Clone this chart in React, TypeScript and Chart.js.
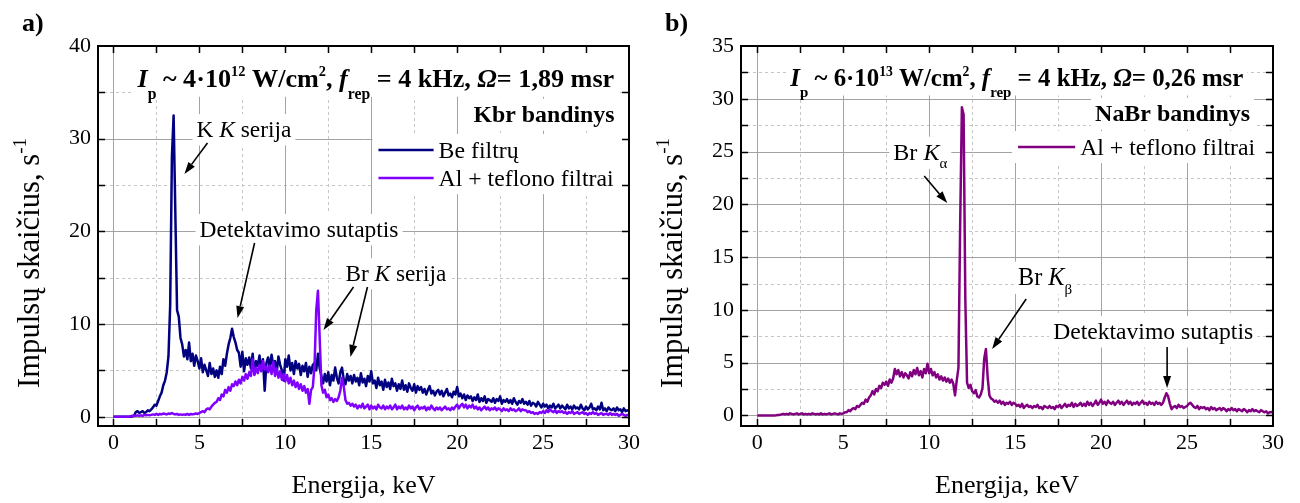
import React, { useEffect, useRef } from 'react';
import { Chart, registerables } from 'chart.js';

Chart.register(...registerables);

// ---------- DATA (spectra sampled every 0.1 keV, starting at 0 keV) ----------
const ENERGY_STEP_KEV = 0.1;

// a) KBr sample, no filters
const kbrNoFilter = [
  /* 0 */ 0, 0, 0, 0, 0, 0, 0, 0, 0, 0,
  /* 1 */ 0, 0.05, 0.1, 0.5, 0.6, 0.4, 0.5, 0.6, 0.4, 0.5,
  /* 2 */ 0.7, 0.6, 0.8, 1.0, 1.3, 1.2, 1.7, 2.2, 2.6, 3.4,
  /* 3 */ 3.9, 4.8, 6.5, 12, 28, 32.5, 22, 11.5, 10.8, 8.5,
  /* 4 */ 7.8, 6.5, 7.2, 6.2, 8.0, 6.0, 6.8, 5.5, 6.6, 6.0,
  /* 5 */ 5.2, 6.3, 4.8, 5.6, 5.0, 4.4, 5.8, 4.6, 5.2, 4.3,
  /* 6 */ 5.0, 4.2, 5.4, 4.6, 6.2, 5.5, 6.8, 7.8, 8.5, 9.5,
  /* 7 */ 8.6, 8.0, 7.2, 6.9, 5.4, 7.0, 4.9, 6.3, 5.6, 6.4,
  /* 8 */ 5.2, 6.8, 4.6, 6.0, 5.5, 6.6, 5.0, 6.2, 2.8, 5.8,
  /* 9 */ 6.4, 5.2, 6.7, 5.5, 6.0, 4.8, 6.5, 5.6, 5.0, 3.9,
  /* 10 */ 6.2, 5.4, 6.6, 5.0, 5.8, 4.6, 6.0, 5.2, 5.7, 4.5,
  /* 11 */ 5.5, 4.9, 5.8, 4.3, 5.4, 4.7, 5.6, 5.8, 5.0, 6.8,
  /* 12 */ 5.2, 4.4, 3.6, 4.6, 3.8, 4.8, 3.4, 4.5, 3.9, 5.3,
  /* 13 */ 4.2, 3.6, 4.8, 5.3, 4.0, 3.5, 4.6, 3.9, 4.4, 3.6,
  /* 14 */ 4.5, 3.8, 4.2, 3.4, 4.7, 3.7, 4.1, 3.3, 4.4, 3.8,
  /* 15 */ 4.9, 3.6, 3.9, 3.1, 4.2, 3.4, 3.8, 2.9, 4.0, 3.2,
  /* 16 */ 3.7, 3.0, 4.1, 3.3, 3.6, 2.8, 3.5, 3.0, 3.9, 2.9,
  /* 17 */ 3.4, 2.7, 3.6, 3.1, 2.8, 3.5, 2.6, 3.3, 2.9, 3.2,
  /* 18 */ 2.6, 3.0, 2.4, 2.9, 3.3, 2.5, 2.8, 2.3, 2.7, 2.9,
  /* 19 */ 2.4, 2.8, 2.2, 2.6, 3.0, 2.3, 2.5, 2.1, 2.7, 2.4,
  /* 20 */ 3.2, 2.2, 2.5, 2.0, 2.4, 1.8, 2.3, 2.0, 2.2, 1.7,
  /* 21 */ 2.1, 1.8, 2.4, 1.6, 2.0, 1.7, 2.2, 1.5, 1.9, 1.8,
  /* 22 */ 1.6, 2.0, 1.5, 1.9, 1.7, 2.2, 1.4, 1.8, 1.6, 1.9,
  /* 23 */ 1.5, 1.8, 1.4, 2.0, 1.6, 1.3, 1.7, 1.5, 1.9, 1.4,
  /* 24 */ 1.6, 1.3, 1.7, 1.2, 1.5, 1.4, 1.1, 1.6, 1.3, 1.0,
  /* 25 */ 1.4, 1.1, 1.3, 0.9, 1.2, 1.0, 1.4, 0.9, 1.1, 1.3,
  /* 26 */ 0.9, 1.2, 1.0, 0.8, 1.3, 0.9, 1.1, 0.8, 1.2, 0.9,
  /* 27 */ 1.0, 0.8, 1.3, 0.9, 0.7, 1.1, 0.8, 1.0, 1.4, 0.8,
  /* 28 */ 0.9, 0.7, 1.1, 0.8, 1.5, 0.7, 0.9, 0.6, 1.0, 0.8,
  /* 29 */ 0.7, 0.9, 0.6, 1.0, 0.7, 0.8, 0.5, 0.9, 0.6, 0.7,
  /* 30 */ 0.6,
];

// a) KBr sample, Al + teflon filters
const kbrAlTeflon = [
  /* 0 */ 0, 0, 0, 0, 0, 0, 0, 0, 0, 0,
  /* 1 */ 0.05, 0.1, 0.1, 0.1, 0.15, 0.1, 0.15, 0.1, 0.2, 0.15,
  /* 2 */ 0.2, 0.15, 0.2, 0.25, 0.2, 0.3, 0.2, 0.3, 0.25, 0.35,
  /* 3 */ 0.3, 0.25, 0.35, 0.3, 0.4, 0.3, 0.25, 0.3, 0.2, 0.25,
  /* 4 */ 0.2, 0.25, 0.2, 0.3, 0.2, 0.3, 0.25, 0.3, 0.35, 0.3,
  /* 5 */ 0.4, 0.5, 0.6, 0.5, 0.8, 0.9, 0.8, 1.1, 1.3, 1.5,
  /* 6 */ 1.6, 2.0, 1.8, 2.4, 2.2, 2.9, 2.6, 3.2, 2.8, 3.5,
  /* 7 */ 3.3, 3.8, 3.4, 4.0, 3.6, 4.3, 3.9, 4.6, 4.1, 4.8,
  /* 8 */ 4.4, 6.2, 4.5, 5.3, 4.7, 5.6, 4.9, 6.0, 5.1, 5.4,
  /* 9 */ 4.8, 5.5, 4.6, 5.9, 4.4, 5.2, 4.2, 4.9, 4.0, 4.6,
  /* 10 */ 3.8, 4.5, 3.6, 4.2, 3.4, 3.9, 3.2, 3.7, 3.0, 3.5,
  /* 11 */ 2.8, 3.3, 2.6, 3.0, 1.4, 2.9, 3.2, 5.5, 11.5, 13.6,
  /* 12 */ 8.5, 3.4, 2.6, 2.9, 2.1, 2.4, 1.8, 2.0, 1.6, 1.9,
  /* 13 */ 1.7, 2.1, 2.8, 4.2, 3.3, 1.8, 1.4, 1.5, 1.2, 1.4,
  /* 14 */ 1.1, 1.3, 0.9, 1.2, 1.0, 1.4, 0.9, 1.1, 1.3, 0.8,
  /* 15 */ 1.2, 0.9, 1.1, 0.8, 1.3, 1.0, 0.9, 1.2, 0.8, 1.1,
  /* 16 */ 0.9, 1.2, 0.8, 1.0, 1.3, 0.8, 1.1, 0.9, 1.2, 0.8,
  /* 17 */ 1.0, 0.8, 1.2, 0.9, 1.1, 0.7, 1.0, 1.2, 0.8, 1.0,
  /* 18 */ 0.9, 1.1, 0.7, 1.0, 0.8, 1.2, 0.9, 0.7, 1.0, 0.8,
  /* 19 */ 1.0, 0.7, 0.9, 1.1, 0.8, 0.9, 0.7, 1.0, 0.8, 1.1,
  /* 20 */ 1.3, 0.9, 1.2, 1.4, 1.0, 1.3, 0.9, 1.2, 1.0, 1.3,
  /* 21 */ 0.9, 1.1, 0.8, 1.0, 0.7, 0.9, 1.1, 0.8, 1.0, 0.7,
  /* 22 */ 0.9, 0.8, 1.0, 0.7, 0.9, 0.8, 0.6, 0.9, 0.7, 0.8,
  /* 23 */ 0.6, 0.9, 0.7, 0.8, 0.6, 0.7, 0.9, 0.6, 0.8, 0.7,
  /* 24 */ 0.7, 0.5, 0.6, 0.4, 0.5, 0.3, 0.4, 0.3, 0.5, 0.4,
  /* 25 */ 0.6, 0.4, 0.7, 0.5, 0.8, 0.6, 0.5, 0.7, 0.4, 0.6,
  /* 26 */ 0.5, 0.6, 0.4, 0.5, 0.3, 0.5, 0.4, 0.6, 0.3, 0.4,
  /* 27 */ 0.5, 0.3, 0.4, 0.5, 0.3, 0.4, 0.2, 0.4, 0.3, 0.5,
  /* 28 */ 0.3, 0.4, 0.2, 0.3, 0.4, 0.2, 0.3, 0.3, 0.2, 0.4,
  /* 29 */ 0.2, 0.3, 0.2, 0.3, 0.1, 0.2, 0.3, 0.2, 0.1, 0.2,
  /* 30 */ 0.2,
];

// b) NaBr sample, Al + teflon filters
const nabrAlTeflon = [
  /* 0 */ 0, 0, 0, 0, 0, 0, 0, 0, 0, 0,
  /* 1 */ 0, 0.02, 0.05, 0.05, 0.1, 0.15, 0.1, 0.15, 0.1, 0.2,
  /* 2 */ 0.15, 0.1, 0.15, 0.2, 0.1, 0.15, 0.2, 0.1, 0.15, 0.1,
  /* 3 */ 0.15, 0.1, 0.2, 0.15, 0.1, 0.15, 0.1, 0.2, 0.1, 0.15,
  /* 4 */ 0.1, 0.15, 0.2, 0.1, 0.15, 0.2, 0.15, 0.1, 0.2, 0.15,
  /* 5 */ 0.2, 0.3, 0.3, 0.5, 0.4, 0.6, 0.7, 0.6, 0.9, 0.8,
  /* 6 */ 1.0, 1.2, 1.1, 1.5, 1.3, 1.7, 1.9, 2.3, 2.0, 2.5,
  /* 7 */ 2.3, 2.8, 2.6, 3.1, 2.9, 3.2, 2.8, 3.4, 3.1, 3.5,
  /* 8 */ 4.4, 3.9, 4.3, 3.7, 4.1, 3.6, 4.0, 3.8, 3.5, 4.1,
  /* 9 */ 3.7, 4.3, 3.9, 4.5, 3.8, 4.2, 3.6, 4.4, 4.0, 4.9,
  /* 10 */ 4.0, 4.4, 3.8, 4.1, 3.6, 3.9, 3.4, 3.7, 3.3, 3.6,
  /* 11 */ 3.2, 3.5, 3.1, 3.4, 3.0, 1.9, 3.3, 4.5, 18.0, 29.2,
  /* 12 */ 28.5, 11.0, 3.1, 2.6, 2.9, 2.3, 2.1, 2.4, 1.8, 1.7,
  /* 13 */ 2.0, 2.6, 5.4, 6.3, 3.6, 1.9, 1.6, 1.5, 1.3, 1.4,
  /* 14 */ 1.2, 1.4, 1.1, 1.3, 1.0, 1.2, 1.1, 1.3, 1.0, 1.2,
  /* 15 */ 1.1, 0.9, 1.0, 0.8, 1.1, 0.7, 0.9, 1.0, 0.8, 0.9,
  /* 16 */ 0.7, 0.9, 0.8, 1.0, 0.7, 0.8, 0.6, 0.9, 0.8, 0.7,
  /* 17 */ 0.9, 0.7, 0.8, 0.6, 0.9, 0.8, 1.0, 0.7, 0.9, 1.1,
  /* 18 */ 0.8, 1.0, 0.9, 1.2, 0.8, 1.1, 0.9, 1.0, 1.2, 0.9,
  /* 19 */ 1.1, 0.9, 1.3, 1.0, 1.2, 0.9, 1.1, 1.4, 1.0, 1.2,
  /* 20 */ 1.5, 1.1, 1.3, 1.0, 1.4, 1.2, 1.1, 1.3, 1.0, 1.2,
  /* 21 */ 1.4, 1.1, 1.3, 1.0, 1.2, 1.4, 1.1, 1.3, 1.0, 1.2,
  /* 22 */ 1.1, 1.3, 1.0, 1.2, 1.4, 1.1, 1.2, 1.0, 1.3, 1.1,
  /* 23 */ 1.2, 1.0, 1.3, 1.1, 1.2, 1.0, 1.2, 1.7, 2.1, 1.8,
  /* 24 */ 1.1, 0.6, 0.8, 0.9, 0.7, 1.0, 0.8, 0.9, 0.7, 0.8,
  /* 25 */ 0.9, 1.1, 1.2, 1.0, 0.8, 0.7, 0.9, 0.6, 0.8, 0.7,
  /* 26 */ 0.8, 0.6, 0.7, 0.5, 0.8, 0.6, 0.7, 0.5, 0.6, 0.7,
  /* 27 */ 0.5, 0.7, 0.6, 0.4, 0.6, 0.5, 0.7, 0.5, 0.6, 0.4,
  /* 28 */ 0.6, 0.5, 0.4, 0.6, 0.5, 0.3, 0.5, 0.4, 0.6, 0.4,
  /* 29 */ 0.5, 0.4, 0.3, 0.5, 0.4, 0.3, 0.4, 0.2, 0.3, 0.3,
  /* 30 */ 0.4,
];

// tick labels
const xTickLabels = [0, 5, 10, 15, 20, 25, 30];
const xMinorTicks = [2.5, 7.5, 12.5, 17.5, 22.5, 27.5];
const leftYTickLabels = [0, 10, 20, 30, 40];
const leftYMinorTicks = [5, 15, 25, 35];
const rightYTickLabels = [0, 5, 10, 15, 20, 25, 30, 35];
const rightYMinorTicks = [2.5, 7.5, 12.5, 17.5, 22.5, 27.5, 32.5];

const xAxisTitle = 'Energija, keV';
const yAxisTitle = 'Impulsų skaičius, s';
const seriesNames = { noFilter: 'Be filtrų', alTeflon: 'Al + teflono filtrai' };

// ---------- STYLE ----------
const FONT = '"Liberation Serif", "Times New Roman", Times, serif';
const NAVY = '#000080';
const VIOLET = '#8000ff';
const PURPLE = '#800080';
const MAJOR_GRID = '#a3a3a3';
const MINOR_GRID = '#c6c6c6';
const LINE_W = 2.5;

type Seg = { t: string; b?: boolean; i?: boolean; s?: number; dy?: number };
type Note = { x: number; y: number; w: number; segs: Seg[]; toTop?: boolean };
type Arrow = { x1: number; y1: number; x2: number; y2: number };
type LegendRow = { y: number; color: string; segs: Seg[]; w: number };
type Decor = {
  label: string; labelX: number; labelY: number;
  yTitleX: number; yTitleY: number; yTitleW: number;
  majorX: number[]; minorX: number[]; majorY: number[]; minorY: number[];
  notes: Note[]; arrows: Arrow[];
  legend: { x1: number; x2: number; textX: number; rows: LegendRow[] };
};

function segFont(seg: Seg, size: number) {
  return `${seg.i ? 'italic ' : 'normal '}${seg.b ? 'bold ' : 'normal '}${(size * (seg.s ?? 1)).toFixed(2)}px ${FONT}`;
}
function measureSegs(ctx: CanvasRenderingContext2D, segs: Seg[], size: number) {
  let w = 0;
  for (const s of segs) { ctx.font = segFont(s, size); w += ctx.measureText(s.t).width; }
  return w;
}
function drawSegs(ctx: CanvasRenderingContext2D, segs: Seg[], x: number, baseline: number, size: number) {
  let cx = x;
  ctx.textAlign = 'left';
  ctx.textBaseline = 'alphabetic';
  for (const s of segs) {
    ctx.font = segFont(s, size);
    ctx.fillText(s.t, cx, baseline + (s.dy ?? 0) * size);
    cx += ctx.measureText(s.t).width;
  }
}
function fitSize(ctx: CanvasRenderingContext2D, segs: Seg[], w: number) {
  return (20 * w) / measureSegs(ctx, segs, 20);
}

function decorPlugin(d: Decor) {
  return {
    id: 'panelDecor',
    beforeDatasetsDraw(chart: any) {
      const { ctx, chartArea: a } = chart;
      const xs = chart.scales.x, ys = chart.scales.y;
      const px = (v: number) => xs.getPixelForValue(v);
      const py = (v: number) => ys.getPixelForValue(v);
      ctx.save();
      ctx.fillStyle = '#fff';
      ctx.fillRect(a.left, a.top, a.right - a.left, a.bottom - a.top);
      ctx.beginPath();
      ctx.rect(a.left, a.top, a.right - a.left, a.bottom - a.top);
      ctx.clip();
      const vline = (v: number) => { const x = Math.round(px(v)) + 0.5; ctx.beginPath(); ctx.moveTo(x, a.top); ctx.lineTo(x, a.bottom); ctx.stroke(); };
      const hline = (v: number) => { const y = Math.round(py(v)) + 0.5; ctx.beginPath(); ctx.moveTo(a.left, y); ctx.lineTo(a.right, y); ctx.stroke(); };
      ctx.lineWidth = 1;
      ctx.strokeStyle = MINOR_GRID;
      ctx.setLineDash([3, 3]);
      d.minorX.forEach(vline);
      d.minorY.forEach(hline);
      ctx.setLineDash([]);
      ctx.strokeStyle = MAJOR_GRID;
      d.majorX.forEach(vline);
      d.majorY.forEach(hline);

      // text notes on white boxes
      for (const n of d.notes) {
        const size = fitSize(ctx, n.segs, n.w);
        const x = px(n.x), cy = py(n.y);
        const top = n.toTop ? a.top : cy - 0.64 * size;
        ctx.fillStyle = '#fff';
        ctx.fillRect(x - 4, top, n.w + 8, cy + 0.7 * size - top);
        ctx.fillStyle = '#000';
        drawSegs(ctx, n.segs, x, cy + 0.33 * size, size);
      }

      // legend
      const L = d.legend;
      const lx1 = px(L.x1), lx2 = px(L.x2), tx = px(L.textX);
      const rys = L.rows.map((r) => py(r.y));
      const maxW = Math.max(...L.rows.map((r) => r.w));
      const top = Math.min(...rys) - 16, bottom = Math.max(...rys) + 16;
      ctx.fillStyle = '#fff';
      ctx.fillRect(lx1 - 6, top, tx + maxW + 10 - (lx1 - 6), bottom - top);
      L.rows.forEach((r, k) => {
        const y = rys[k];
        ctx.strokeStyle = r.color;
        ctx.lineWidth = LINE_W;
        ctx.beginPath(); ctx.moveTo(lx1, y); ctx.lineTo(lx2, y); ctx.stroke();
        const size = fitSize(ctx, r.segs, r.w);
        ctx.fillStyle = '#000';
        drawSegs(ctx, r.segs, tx, y + 0.33 * size, size);
      });
      ctx.restore();
    },
    afterDatasetsDraw(chart: any) {
      const { ctx, chartArea: a } = chart;
      const xs = chart.scales.x, ys = chart.scales.y;
      const px = (v: number) => xs.getPixelForValue(v);
      const py = (v: number) => ys.getPixelForValue(v);
      ctx.save();
      // arrows
      ctx.strokeStyle = '#000';
      ctx.fillStyle = '#000';
      for (const ar of d.arrows) {
        const x1 = px(ar.x1), y1 = py(ar.y1), x2 = px(ar.x2), y2 = py(ar.y2);
        const ang = Math.atan2(y2 - y1, x2 - x1);
        const len = 12, hw = 4;
        const bx = x2 - len * Math.cos(ang), by = y2 - len * Math.sin(ang);
        ctx.lineWidth = 1.6;
        ctx.beginPath(); ctx.moveTo(x1, y1); ctx.lineTo(bx, by); ctx.stroke();
        ctx.beginPath();
        ctx.moveTo(x2, y2);
        ctx.lineTo(bx + hw * Math.sin(ang), by - hw * Math.cos(ang));
        ctx.lineTo(bx - hw * Math.sin(ang), by + hw * Math.cos(ang));
        ctx.closePath();
        ctx.fill();
      }
      // inward ticks
      ctx.lineWidth = 1.5;
      ctx.strokeStyle = '#000';
      const tl = 7;
      const allX = [...d.majorX, ...d.minorX];
      for (const v of allX) {
        const x = Math.round(px(v)) + 0.5;
        ctx.beginPath();
        ctx.moveTo(x, a.bottom); ctx.lineTo(x, a.bottom - tl);
        ctx.moveTo(x, a.top); ctx.lineTo(x, a.top + tl);
        ctx.stroke();
      }
      const allY = [...d.majorY, ...d.minorY];
      for (const v of allY) {
        const y = Math.round(py(v)) + 0.5;
        ctx.beginPath();
        ctx.moveTo(a.left, y); ctx.lineTo(a.left + tl, y);
        ctx.moveTo(a.right, y); ctx.lineTo(a.right - tl, y);
        ctx.stroke();
      }
      // frame
      ctx.lineWidth = 2;
      ctx.strokeRect(a.left, a.top, a.right - a.left, a.bottom - a.top);
      ctx.restore();
    },
    afterDraw(chart: any) {
      const { ctx } = chart;
      ctx.save();
      ctx.fillStyle = '#000';
      // panel label
      drawSegs(ctx, [{ t: d.label, b: true }], d.labelX, d.labelY + 0.33 * 26, 26);
      // rotated y title with superscript
      const segs: Seg[] = [{ t: yAxisTitle }, { t: '-1', s: 0.62, dy: -0.42 }];
      const size = fitSize(ctx, segs, d.yTitleW);
      ctx.translate(d.yTitleX, d.yTitleY);
      ctx.rotate(-Math.PI / 2);
      drawSegs(ctx, segs, -d.yTitleW / 2, 0.33 * size, size);
      ctx.restore();
    },
  };
}

const toPoints = (values: number[]) =>
  values.map((y, i) => ({ x: Math.round(i * ENERGY_STEP_KEV * 10) / 10, y }));

function headerSegs(intensity: string, exponent: string, omega: string): Seg[] {
  return [
    { t: 'I', b: true, i: true },
    { t: 'p', b: true, s: 0.6, dy: 0.45 },
    { t: ` ~ ${intensity}·10`, b: true },
    { t: exponent, b: true, s: 0.55, dy: -0.42 },
    { t: ' W/cm', b: true },
    { t: '2', b: true, s: 0.55, dy: -0.42 },
    { t: ', ', b: true },
    { t: 'f', b: true, i: true },
    { t: 'rep', b: true, s: 0.6, dy: 0.45 },
    { t: ' = 4 kHz, ', b: true },
    { t: 'Ω', b: true, i: true },
    { t: `= ${omega} msr`, b: true },
  ];
}

const leftDecor: Decor = {
  label: 'a)', labelX: 22, labelY: 22,
  yTitleX: 29, yTitleY: 263, yTitleW: 250,
  majorX: [0, 5, 10, 15, 20, 25], minorX: xMinorTicks,
  majorY: [0, 10, 20, 30], minorY: leftYMinorTicks,
  notes: [
    { x: 1.4, y: 36.5, w: 477, segs: headerSegs('4', '12', '1,89'), toTop: true },
    { x: 20.95, y: 32.66, w: 141, segs: [{ t: 'Kbr bandinys', b: true }] },
    { x: 4.83, y: 31.04, w: 95, segs: [{ t: 'K ' }, { t: 'K', i: true }, { t: ' serija' }] },
    { x: 5.01, y: 20.25, w: 199, segs: [{ t: 'Detektavimo sutaptis' }] },
    { x: 13.5, y: 15.5, w: 101, segs: [{ t: 'Br ' }, { t: 'K', i: true }, { t: ' serija' }] },
  ],
  arrows: [
    { x1: 5.47, y1: 29.53, x2: 4.13, y2: 26.19 },
    { x1: 8.21, y1: 18.74, x2: 7.22, y2: 10.65 },
    { x1: 13.97, y1: 14.0, x2: 12.22, y2: 9.35 },
    { x1: 14.78, y1: 14.0, x2: 13.79, y2: 6.45 },
  ],
  legend: {
    x1: 15.42, x2: 18.63, textX: 18.92,
    rows: [
      { y: 28.78, color: NAVY, segs: [{ t: seriesNames.noFilter }], w: 80 },
      { y: 25.75, color: VIOLET, segs: [{ t: seriesNames.alTeflon }], w: 175 },
    ],
  },
};

const rightDecor: Decor = {
  label: 'b)', labelX: 15, labelY: 22,
  yTitleX: 22, yTitleY: 263, yTitleW: 250,
  majorX: [0, 5, 10, 15, 20, 25], minorX: xMinorTicks,
  majorY: [0, 5, 10, 15, 20, 25, 30], minorY: rightYMinorTicks,
  notes: [
    { x: 1.92, y: 31.96, w: 453, segs: headerSegs('6', '13', '0,26'), toTop: true },
    { x: 19.65, y: 28.65, w: 155, segs: [{ t: 'NaBr bandinys', b: true }] },
    { x: 7.91, y: 24.95, w: 54, segs: [{ t: 'Br ' }, { t: 'K', i: true }, { t: 'α', s: 0.62, dy: 0.35 }] },
    { x: 15.17, y: 13.11, w: 54, segs: [{ t: 'Br ' }, { t: 'K', i: true }, { t: 'β', s: 0.62, dy: 0.35 }] },
    { x: 17.21, y: 8.0, w: 200, segs: [{ t: 'Detektavimo sutaptis' }] },
  ],
  arrows: [
    { x1: 9.71, y1: 22.68, x2: 11.05, y2: 20.12 },
    { x1: 15.64, y1: 11.03, x2: 13.66, y2: 6.29 },
    { x1: 23.84, y1: 6.48, x2: 23.84, y2: 2.6 },
  ],
  legend: {
    x1: 15.17, x2: 18.49, textX: 18.78,
    rows: [{ y: 25.43, color: PURPLE, segs: [{ t: seriesNames.alTeflon }], w: 175 }],
  },
};

function makeChart(
  canvas: HTMLCanvasElement,
  datasets: any[],
  yTicks: number[],
  yMin: number,
  yMax: number,
  xMin: number,
  yAxisWidth: number,
  padRight: number,
  decor: Decor
) {
  return new Chart(canvas, {
    type: 'line',
    data: { datasets },
    options: {
      animation: false,
      responsive: false,
      events: [],
      layout: { padding: { top: 46, right: padRight, left: 0, bottom: 0 } },
      plugins: { legend: { display: false }, tooltip: { enabled: false }, title: { display: false } },
      elements: { point: { radius: 0 }, line: { tension: 0, borderJoinStyle: 'round' } },
      scales: {
        x: {
          type: 'linear',
          min: xMin,
          max: 30,
          grid: { display: false, drawTicks: false },
          border: { display: false },
          afterBuildTicks: (s: any) => { s.ticks = xTickLabels.map((v) => ({ value: v })); },
          afterFit: (s: any) => { s.height = 77; },
          ticks: { font: { family: FONT, size: 22 }, color: '#000', padding: 4, maxRotation: 0, autoSkip: false },
          title: { display: true, text: xAxisTitle, font: { family: FONT, size: 26 }, color: '#000', padding: { top: 0, bottom: 1 } },
        },
        y: {
          type: 'linear',
          min: yMin,
          max: yMax,
          grid: { display: false, drawTicks: false },
          border: { display: false },
          afterBuildTicks: (s: any) => { s.ticks = yTicks.map((v) => ({ value: v })); },
          afterFit: (s: any) => { s.width = yAxisWidth; },
          ticks: { font: { family: FONT, size: 22 }, color: '#000', padding: 7, autoSkip: false },
        },
      },
    } as any,
    plugins: [decorPlugin(decor)],
  });
}

function Panel({ left, build }: { left: number; build: (c: HTMLCanvasElement) => Chart }) {
  const ref = useRef<HTMLCanvasElement>(null);
  useEffect(() => {
    const chart = build(ref.current!);
    return () => chart.destroy();
  }, []);
  return (
    <canvas
      ref={ref}
      width={650}
      height={503}
      style={{ position: 'absolute', left, top: 0, width: 650, height: 503 }}
    />
  );
}

export default function App() {
  return (
    <div style={{ position: 'absolute', left: 0, top: 0, width: 1300, height: 503, background: '#fff', overflow: 'hidden' }}>
      <Panel
        left={0}
        build={(c) =>
          makeChart(
            c,
            [
              { label: seriesNames.alTeflon, data: toPoints(kbrAlTeflon), borderColor: VIOLET, borderWidth: LINE_W, pointRadius: 0, order: 0 },
              { label: seriesNames.noFilter, data: toPoints(kbrNoFilter), borderColor: NAVY, borderWidth: LINE_W, pointRadius: 0, order: 1 },
            ],
            leftYTickLabels, -1, 40, -0.9, 98, 21, leftDecor
          )
        }
      />
      <Panel
        left={650}
        build={(c) =>
          makeChart(
            c,
            [{ label: seriesNames.alTeflon, data: toPoints(nabrAlTeflon), borderColor: PURPLE, borderWidth: LINE_W, pointRadius: 0 }],
            rightYTickLabels, -1, 35, -0.95, 91, 27, rightDecor
          )
        }
      />
    </div>
  );
}
